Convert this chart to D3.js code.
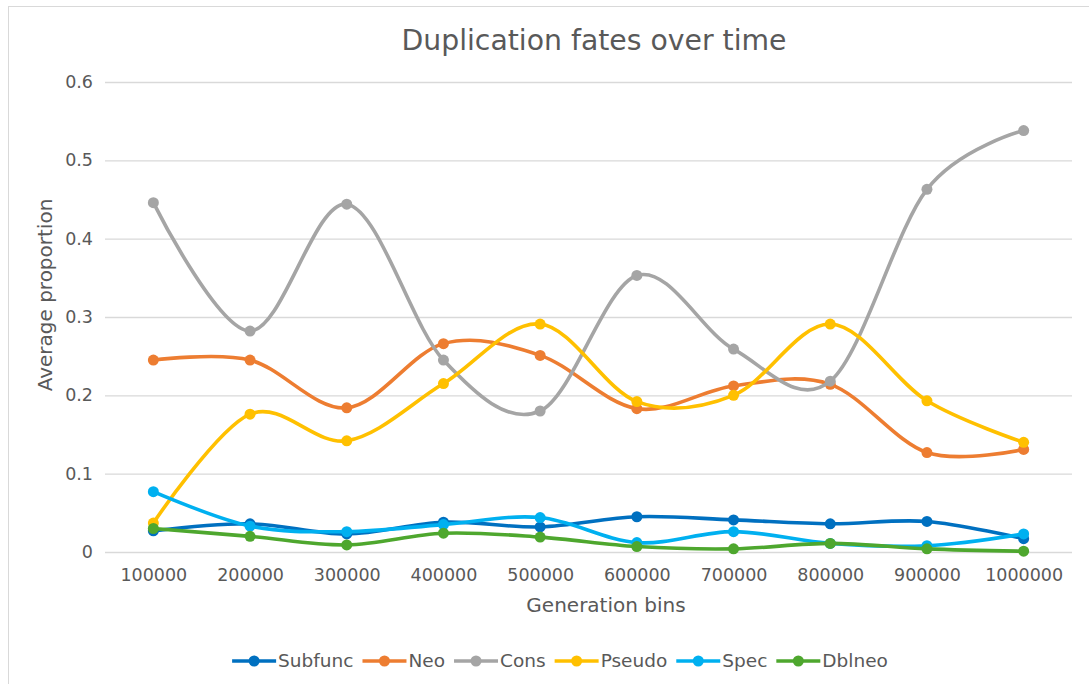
<!DOCTYPE html>
<html>
<head>
<meta charset="utf-8">
<script src="https://cdn.jsdelivr.net/npm/d3@7"></script>
<style>
  body { margin: 0; background: #fff; }
  svg { font-family: "DejaVu Sans", Verdana, sans-serif; }
</style>
</head>
<body>
<div class="wrapper"></div>
<script>

var bins = [100000, 200000, 300000, 400000, 500000, 600000, 700000, 800000, 900000, 1000000];

var subfunc = [0.027, 0.036, 0.023, 0.038, 0.032, 0.045, 0.041, 0.036, 0.039, 0.017];
var neo     = [0.245, 0.245, 0.184, 0.266, 0.251, 0.183, 0.212, 0.214, 0.127, 0.131];
var cons    = [0.446, 0.282, 0.444, 0.245, 0.180, 0.353, 0.259, 0.218, 0.463, 0.538];
var pseudo  = [0.037, 0.176, 0.142, 0.215, 0.291, 0.192, 0.200, 0.291, 0.193, 0.140];
var spec    = [0.077, 0.033, 0.026, 0.035, 0.044, 0.012, 0.026, 0.011, 0.008, 0.023];
var dblneo  = [0.030, 0.020, 0.009, 0.024, 0.019, 0.007, 0.004, 0.011, 0.004, 0.001];

var seriesNames = ["Subfunc", "Neo", "Cons", "Pseudo", "Spec", "Dblneo"];
var seriesValues = [subfunc, neo, cons, pseudo, spec, dblneo];
var seriesColors = ["#0070C0", "#ED7D31", "#A5A5A5", "#FFC000", "#00B0F0", "#4EA72E"];

var yTicks = [0, 0.1, 0.2, 0.3, 0.4, 0.5, 0.6];

var width = 1089,
    height = 684;

var plot = { left: 105, right: 1072, top: 82, bottom: 552 };

var svg = d3.select(".wrapper").append("svg")
    .attr("width", width)
    .attr("height", height);

// chart frame
svg.append("rect")
    .attr("x", 8.5).attr("y", 6.5)
    .attr("width", 1100).attr("height", 700)
    .attr("fill", "#fff")
    .attr("stroke", "#d9d9d9");

var x = d3.scalePoint()
    .domain(bins)
    .range([plot.left, plot.right])
    .padding(0.5);

var y = d3.scaleLinear()
    .domain([0, 0.6])
    .range([plot.bottom, plot.top]);

// y axis + gridlines
var yAxis = svg.append("g")
    .attr("transform", "translate(" + plot.left + ",0)")
    .call(d3.axisLeft(y)
      .tickValues(yTicks)
      .tickFormat(function(d) { return d === 0 ? "0" : d3.format(".1f")(d); })
      .tickSizeInner(-(plot.right - plot.left))
      .tickSizeOuter(0)
      .tickPadding(12));
yAxis.select(".domain").remove();
yAxis.selectAll(".tick line").attr("stroke", "#d9d9d9").attr("stroke-width", 1.3);
yAxis.selectAll(".tick text")
    .attr("fill", "#595959")
    .style("font-size", "17.5px")
    .style("font-family", "DejaVu Sans");

// x axis
var xAxis = svg.append("g")
    .attr("transform", "translate(0," + plot.bottom + ")")
    .call(d3.axisBottom(x).tickSize(0).tickPadding(17));
xAxis.select(".domain").remove();
xAxis.selectAll(".tick text")
    .attr("fill", "#595959")
    .style("font-size", "17.5px")
    .style("font-family", "DejaVu Sans");

// titles
svg.append("text")
    .attr("x", 594).attr("y", 50)
    .attr("text-anchor", "middle")
    .attr("fill", "#595959")
    .style("font-size", "28.3px")
    .text("Duplication fates over time");

svg.append("text")
    .attr("x", 606).attr("y", 612)
    .attr("text-anchor", "middle")
    .attr("fill", "#595959")
    .style("font-size", "20px")
    .text("Generation bins");

svg.append("text")
    .attr("transform", "translate(52,295) rotate(-90)")
    .attr("text-anchor", "middle")
    .attr("fill", "#595959")
    .style("font-size", "20px")
    .text("Average proportion");

// smoothed lines, like the spreadsheet's "smoothed line" option
var line = d3.line()
    .x(function(d, i) { return x(bins[i]); })
    .y(function(d) { return y(d); })
    .curve(d3.curveCatmullRom.alpha(0));

var series = svg.selectAll(".series")
    .data(seriesValues)
  .enter().append("g")
    .attr("class", "series");

series.append("path")
    .attr("d", line)
    .attr("fill", "none")
    .attr("stroke", function(d, i) { return seriesColors[i]; })
    .attr("stroke-width", 3.6)
    .attr("stroke-linecap", "round");

series.each(function(vals, si) {
  d3.select(this).selectAll("circle")
      .data(vals)
    .enter().append("circle")
      .attr("cx", function(d, i) { return x(bins[i]); })
      .attr("cy", function(d) { return y(d); })
      .attr("r", 5.5)
      .attr("fill", seriesColors[si]);
});

// legend
var legend = svg.append("g");
var items = legend.selectAll("g")
    .data(seriesNames)
  .enter().append("g");

items.append("line")
    .attr("x1", 0).attr("x2", 44)
    .attr("y1", 0).attr("y2", 0)
    .attr("stroke", function(d, i) { return seriesColors[i]; })
    .attr("stroke-width", 3.6);
items.append("circle")
    .attr("cx", 22).attr("cy", 0).attr("r", 5.5)
    .attr("fill", function(d, i) { return seriesColors[i]; });
items.append("text")
    .attr("x", 46).attr("dy", "0.35em")
    .attr("fill", "#595959")
    .style("font-size", "18.5px")
    .text(function(d) { return d; });

var offset = 0;
items.each(function() {
  var g = d3.select(this);
  var w = 46 + g.select("text").node().getComputedTextLength();
  g.attr("transform", "translate(" + offset + ",0)");
  offset += w + 9;
});
offset -= 9;
legend.attr("transform", "translate(" + (560 - offset / 2) + ",661)");

</script>
</body>
</html>
